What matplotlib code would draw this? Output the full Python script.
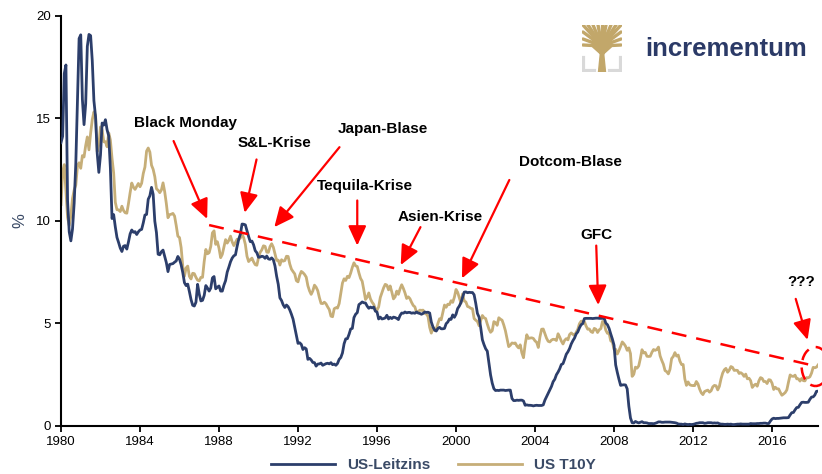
import matplotlib
matplotlib.use("Agg")
import matplotlib.pyplot as plt
import numpy as np
from matplotlib.patches import Ellipse, Polygon

plt.rcParams["font.family"] = ["Liberation Sans", "DejaVu Sans"]

NAVY = "#2c3e6b"
GOLD = "#c6ae78"
RED = "#ff0000"

# Monatswerte ab Jan 1980
start_year = 1980
leitzins = [
    13.82, 14.13, 17.19, 17.61, 10.98, 9.47, 9.03, 9.61, 10.87, 12.81, 15.85, 18.90,
    19.08, 15.93, 14.70, 15.72, 18.52, 19.10, 19.04, 17.82, 15.87, 15.08, 13.31, 12.37,
    13.22, 14.78, 14.68, 14.94, 14.45, 14.15, 12.59, 10.12, 10.31, 9.71, 9.20, 8.95,
    8.68, 8.51, 8.77, 8.80, 8.63, 8.98, 9.37, 9.56, 9.45, 9.48, 9.34, 9.47,
    9.56, 9.59, 9.91, 10.29, 10.32, 11.06, 11.23, 11.64, 11.30, 9.99, 9.43, 8.38,
    8.35, 8.50, 8.58, 8.27, 7.97, 7.53, 7.88, 7.90, 7.92, 7.99, 8.05, 8.27,
    8.14, 7.86, 7.48, 6.99, 6.85, 6.92, 6.56, 6.17, 5.89, 5.85, 6.04, 6.91,
    6.43, 6.10, 6.13, 6.37, 6.85, 6.73, 6.58, 6.73, 7.22, 7.29, 6.69, 6.77,
    6.83, 6.58, 6.58, 6.87, 7.09, 7.51, 7.75, 8.01, 8.19, 8.30, 8.35, 8.76,
    9.12, 9.36, 9.85, 9.84, 9.81, 9.53, 9.24, 8.99, 9.02, 8.84, 8.55, 8.45,
    8.23, 8.24, 8.28, 8.26, 8.18, 8.29, 8.15, 8.13, 8.20, 8.11, 7.81, 7.31,
    6.91, 6.25, 6.12, 5.91, 5.78, 5.90, 5.82, 5.66, 5.45, 5.21, 4.81, 4.43,
    4.03, 4.06, 3.98, 3.73, 3.82, 3.76, 3.25, 3.30, 3.22, 3.10, 3.09, 2.92,
    3.02, 3.03, 3.07, 2.96, 3.00, 3.04, 3.06, 3.03, 3.09, 2.99, 3.02, 2.96,
    3.05, 3.25, 3.34, 3.56, 4.01, 4.25, 4.26, 4.47, 4.73, 4.76, 5.29, 5.45,
    5.53, 5.92, 5.98, 6.05, 6.01, 6.00, 5.85, 5.74, 5.80, 5.76, 5.80, 5.60,
    5.56, 5.22, 5.31, 5.22, 5.24, 5.27, 5.40, 5.22, 5.30, 5.24, 5.31, 5.29,
    5.25, 5.19, 5.39, 5.51, 5.50, 5.56, 5.52, 5.54, 5.54, 5.50, 5.52, 5.50,
    5.56, 5.51, 5.49, 5.45, 5.49, 5.56, 5.54, 5.55, 5.51, 5.07, 4.83, 4.68,
    4.63, 4.76, 4.81, 4.74, 4.74, 4.76, 4.99, 5.07, 5.22, 5.20, 5.42, 5.30,
    5.45, 5.73, 5.85, 6.02, 6.27, 6.53, 6.54, 6.50, 6.52, 6.51, 6.51, 6.40,
    5.98, 5.49, 5.31, 4.80, 4.21, 3.97, 3.77, 3.65, 3.07, 2.49, 2.09, 1.82,
    1.73, 1.74, 1.73, 1.75, 1.75, 1.75, 1.73, 1.74, 1.75, 1.75, 1.34, 1.24,
    1.24, 1.26, 1.25, 1.26, 1.26, 1.22, 1.01, 1.03, 1.01, 1.01, 1.00, 0.98,
    1.00, 1.01, 1.00, 1.00, 1.00, 1.03, 1.26, 1.43, 1.61, 1.76, 1.93, 2.16,
    2.28, 2.50, 2.63, 2.79, 3.00, 3.04, 3.26, 3.50, 3.62, 3.78, 4.00, 4.16,
    4.29, 4.49, 4.59, 4.79, 4.94, 4.99, 5.24, 5.25, 5.25, 5.25, 5.25, 5.24,
    5.25, 5.26, 5.26, 5.25, 5.25, 5.25, 5.26, 5.02, 4.94, 4.76, 4.49, 4.24,
    3.94, 2.98, 2.61, 2.28, 1.98, 2.00, 2.01, 2.00, 1.81, 0.97, 0.39, 0.16,
    0.15, 0.22, 0.18, 0.15, 0.18, 0.21, 0.16, 0.16, 0.15, 0.12, 0.12, 0.12,
    0.11, 0.13, 0.16, 0.20, 0.20, 0.18, 0.18, 0.19, 0.19, 0.19, 0.19, 0.18,
    0.17, 0.16, 0.14, 0.10, 0.09, 0.09, 0.07, 0.10, 0.08, 0.07, 0.08, 0.07,
    0.08, 0.10, 0.13, 0.14, 0.16, 0.16, 0.16, 0.13, 0.14, 0.16, 0.16, 0.16,
    0.14, 0.15, 0.14, 0.15, 0.11, 0.09, 0.09, 0.08, 0.08, 0.09, 0.08, 0.09,
    0.07, 0.07, 0.08, 0.09, 0.09, 0.10, 0.09, 0.09, 0.09, 0.09, 0.09, 0.12,
    0.11, 0.11, 0.11, 0.12, 0.12, 0.13, 0.13, 0.14, 0.14, 0.12, 0.12, 0.24,
    0.34, 0.38, 0.36, 0.37, 0.37, 0.38, 0.39, 0.40, 0.40, 0.40, 0.41, 0.54,
    0.65, 0.66, 0.79, 0.90, 0.91, 1.04, 1.15, 1.16, 1.15, 1.15, 1.16, 1.30,
    1.41, 1.42, 1.51, 1.69, 1.70,
]
t10y = [
    10.80, 12.41, 12.75, 11.47, 10.18, 9.78, 10.25, 11.10, 11.51, 11.75, 12.68, 12.84,
    12.57, 13.19, 13.12, 13.68, 14.10, 13.47, 14.28, 14.94, 15.32, 15.15, 13.39, 13.72,
    14.59, 14.43, 13.86, 13.87, 13.62, 14.30, 13.95, 13.06, 12.34, 10.91, 10.55, 10.54,
    10.46, 10.72, 10.51, 10.40, 10.38, 10.85, 11.38, 11.85, 11.65, 11.54, 11.69, 11.83,
    11.67, 11.84, 12.32, 12.63, 13.41, 13.56, 13.36, 12.72, 12.52, 12.16, 11.57, 11.50,
    11.38, 11.51, 11.86, 11.43, 10.85, 10.16, 10.31, 10.33, 10.37, 10.24, 9.78, 9.26,
    9.19, 8.70, 7.78, 7.30, 7.71, 7.80, 7.30, 7.17, 7.45, 7.43, 7.25, 7.11,
    7.08, 7.25, 7.25, 8.02, 8.61, 8.40, 8.45, 8.76, 9.42, 9.52, 8.86, 8.99,
    8.67, 8.21, 8.37, 8.72, 9.09, 8.92, 9.06, 9.26, 8.98, 8.80, 8.96, 9.11,
    9.09, 9.17, 9.36, 9.18, 8.86, 8.28, 8.02, 8.11, 8.19, 8.01, 7.87, 7.84,
    8.21, 8.47, 8.59, 8.79, 8.76, 8.48, 8.47, 8.75, 8.89, 8.72, 8.39, 8.08,
    8.09, 7.85, 8.11, 8.04, 8.07, 8.28, 8.27, 7.90, 7.65, 7.53, 7.42, 7.09,
    7.03, 7.34, 7.54, 7.48, 7.39, 7.26, 6.84, 6.59, 6.42, 6.59, 6.87, 6.77,
    6.60, 6.26, 5.98, 5.97, 6.04, 5.96, 5.81, 5.68, 5.36, 5.33, 5.72, 5.77,
    5.75, 5.97, 6.48, 6.97, 7.18, 7.10, 7.30, 7.24, 7.46, 7.74, 7.96, 7.81,
    7.78, 7.47, 7.20, 7.06, 6.63, 6.17, 6.28, 6.49, 6.20, 6.04, 5.93, 5.71,
    5.65, 5.81, 6.27, 6.51, 6.74, 6.91, 6.87, 6.64, 6.83, 6.53, 6.20, 6.30,
    6.58, 6.42, 6.69, 6.89, 6.71, 6.49, 6.22, 6.30, 6.21, 6.03, 5.88, 5.81,
    5.54, 5.57, 5.65, 5.64, 5.65, 5.50, 5.46, 5.34, 4.81, 4.53, 4.83, 4.65,
    4.72, 5.00, 5.23, 5.18, 5.54, 5.90, 5.79, 5.94, 5.92, 6.11, 6.03, 6.28,
    6.66, 6.52, 6.26, 5.99, 6.44, 6.10, 6.05, 5.83, 5.80, 5.74, 5.72, 5.24,
    5.16, 5.10, 4.89, 5.14, 5.39, 5.28, 5.24, 4.97, 4.73, 4.57, 4.65, 5.09,
    5.04, 4.91, 5.28, 5.21, 5.16, 4.93, 4.65, 4.26, 3.87, 3.94, 4.05, 4.03,
    4.05, 3.90, 3.81, 3.96, 3.57, 3.33, 3.98, 4.45, 4.27, 4.29, 4.30, 4.27,
    4.15, 4.08, 3.83, 4.35, 4.72, 4.73, 4.50, 4.28, 4.13, 4.10, 4.19, 4.23,
    4.22, 4.17, 4.50, 4.34, 4.14, 4.00, 4.18, 4.26, 4.20, 4.46, 4.54, 4.47,
    4.42, 4.57, 4.72, 4.99, 5.11, 5.11, 5.09, 4.88, 4.72, 4.73, 4.60, 4.56,
    4.76, 4.72, 4.56, 4.69, 4.75, 5.10, 5.00, 4.67, 4.52, 4.53, 4.15, 4.10,
    3.74, 3.74, 3.51, 3.68, 3.88, 4.10, 4.01, 3.89, 3.69, 3.81, 3.53, 2.42,
    2.52, 2.87, 2.82, 2.93, 3.29, 3.72, 3.56, 3.59, 3.40, 3.39, 3.40, 3.59,
    3.73, 3.69, 3.73, 3.85, 3.42, 3.20, 3.01, 2.70, 2.65, 2.54, 2.76, 3.29,
    3.39, 3.58, 3.41, 3.46, 3.17, 3.00, 3.00, 2.30, 1.98, 2.15, 2.01, 1.98,
    1.97, 1.97, 2.17, 2.05, 1.80, 1.62, 1.53, 1.68, 1.72, 1.75, 1.65, 1.72,
    1.91, 1.98, 1.96, 1.76, 1.93, 2.30, 2.58, 2.74, 2.81, 2.62, 2.72, 2.90,
    2.86, 2.71, 2.72, 2.71, 2.56, 2.60, 2.54, 2.42, 2.53, 2.30, 2.33, 2.21,
    1.88, 1.98, 2.04, 1.94, 2.20, 2.36, 2.32, 2.17, 2.17, 2.07, 2.26, 2.24,
    2.09, 1.78, 1.89, 1.81, 1.81, 1.64, 1.50, 1.56, 1.63, 1.76, 2.14, 2.49,
    2.43, 2.42, 2.48, 2.30, 2.30, 2.19, 2.32, 2.21, 2.20, 2.36, 2.35, 2.40,
    2.58, 2.86, 2.84, 2.87, 2.98,
]

# Trendlinie (gestrichelt) und Ereignisse
trend_x = [1987.5, 2018.3]
trend_y = [9.8, 2.9]

events = ["Black Monday", "S&L-Krise", "Japan-Blase", "Tequila-Krise",
          "Asien-Krise", "Dotcom-Blase", "GFC", "???"]
text_pos = [(1986.3, 14.8), (1990.8, 13.8), (1996.3, 14.5), (1995.4, 11.7),
            (1999.2, 10.2), (2005.8, 12.9), (2007.1, 9.3), (2017.5, 7.0)]
arrow_from = [(1985.7, 13.9), (1989.9, 13.0), (1994.1, 13.6), (1995.0, 11.0),
              (1998.2, 9.7), (2002.7, 12.0), (2007.1, 8.8), (2017.2, 6.2)]
arrow_to = [(1987.4, 10.1), (1989.3, 10.4), (1990.8, 9.7), (1995.0, 8.8),
            (1997.2, 7.85), (2000.3, 7.2), (2007.2, 5.9), (2017.8, 4.2)]

x_lz = start_year + np.arange(len(leitzins)) / 12
x_t10 = start_year + np.arange(len(t10y)) / 12

fig = plt.figure(figsize=(8.22, 4.74), dpi=100)
ax = fig.add_axes([0.0742, 0.1013, 0.921, 0.865])

ax.plot(x_lz, leitzins, color=NAVY, lw=2.0, label="US-Leitzins", zorder=3)
ax.plot(x_t10, t10y, color=GOLD, lw=2.0, label="US T10Y", zorder=2)
ax.plot(trend_x, trend_y, color=RED, lw=1.8, dashes=(6, 4), zorder=4)

ax.add_patch(Ellipse((2018.2, 2.9), 1.4, 1.9, fill=False, edgecolor=RED,
                     lw=1.8, linestyle=(0, (5, 3)), clip_on=False, zorder=5))

for label, tp, a0, a1 in zip(events, text_pos, arrow_from, arrow_to):
    ax.text(tp[0], tp[1], label, ha="center", va="center", fontsize=11,
            fontweight="bold", color="black")
    ax.annotate("", xy=a1, xytext=a0,
                arrowprops=dict(arrowstyle="-|>,head_length=1.2,head_width=0.55",
                                color=RED, lw=1.6, shrinkA=0, shrinkB=0))

ax.set_xlim(1980, 2018.33)
ax.set_ylim(0, 20)
ax.set_xticks(np.arange(1980, 2017, 4))
ax.set_yticks([0, 5, 10, 15, 20])
ax.tick_params(labelsize=9.5, length=4, width=1.3, direction="out")
for s in ["top", "right"]:
    ax.spines[s].set_visible(False)
for s in ["left", "bottom"]:
    ax.spines[s].set_linewidth(1.5)
ax.set_ylabel("%", fontsize=12, color="#3a4a66", labelpad=6)

leg = fig.legend(loc="lower center", bbox_to_anchor=(0.527, -0.025), ncol=2,
                 frameon=False, handlelength=4.2, columnspacing=1.8,
                 prop=dict(weight="bold", size=11))
for t in leg.get_texts():
    t.set_color("#3a4a66")

# Logo
lax = fig.add_axes([582 / 822, 1 - 72 / 474, 40 / 822, 47 / 474])
lax.set_xlim(0, 40)
lax.set_ylim(0, 47)
lax.axis("off")
lax.add_patch(Polygon([(16.5, 0), (23.5, 0), (21.5, 20), (18.5, 20)], color="#c2a76a"))
branch_ends = [(1, 47), (6, 47), (11, 47), (16, 47), (20, 47), (24, 47), (29, 47),
               (34, 47), (39, 47), (1, 40), (39, 40), (1, 33), (39, 33), (1, 27), (39, 27)]
for bx, by in branch_ends:
    lax.plot([20, (20 + bx) / 2, bx], [18, (18 + by) / 2 + 4, by], color="#c2a76a",
             lw=2.4, solid_capstyle="round")
lax.plot([1, 1, 12], [14, 1, 1], color="#d9d9d9", lw=3)
lax.plot([28, 39, 39], [1, 1, 14], color="#d9d9d9", lw=3)
fig.text(645 / 822, 1 - 49 / 474, "incrementum", fontsize=18.5, fontweight="bold",
         color="#2b3a67", va="center", ha="left")

fig.savefig("out.png", dpi=100)
